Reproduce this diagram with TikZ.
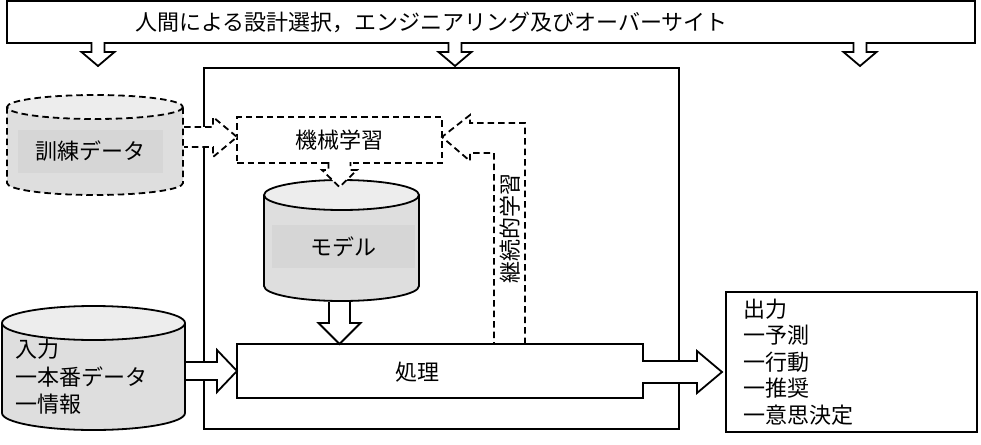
\documentclass[tikz,border=0pt]{standalone}
\usepackage{fontspec}
\setmainfont{Noto Sans CJK JP}
\colorlet{drum body}{black!13}
\colorlet{drum top}{black!7}
\colorlet{drum label}{black!16}
\tikzset{
  box/.style={draw, line width=1.8pt, inner sep=0pt, outer sep=0pt},
  dashline/.style={dash pattern=on 6.5pt off 4pt},
  blockarrow/.style={draw, fill=white, line width=1.8pt, line join=miter},
  drum/.style={fill=drum body, draw, line width=1.8pt},
  drumtop/.style={fill=drum top, draw, line width=1.8pt},
  drumlabel/.style={fill=drum label, inner sep=0pt}
}

\begin{document}
\begin{tikzpicture}[x=1pt, y=-1pt, font=\fontsize{22}{27.5}\selectfont]
  \useasboundingbox (0,0) rectangle (981,444);
  \node[box, anchor=north west, minimum width=968, minimum height=42] (human) at (7,1) {};
  \node[anchor=west, inner sep=0pt] (humantext) at (135,22) {人間による設計選択，エンジニアリング及びオーバーサイト};
  \node[box, anchor=north west, minimum width=475, minimum height=361] (system) at (204,68) {};
  \foreach \dx in {84.5, 441.5, 846.5}
    \filldraw[blockarrow] ([shift={(\dx,-0.8)}]human.south west) -- ++(0,9.8) -- ++(-10,0)
      -- ++(16.5,14) -- ++(16.5,-14) -- ++(-10,0) -- ++(0,-9.8);

  \filldraw[drum, dashline] (7,107) -- (7,183) arc[start angle=180, end angle=0, x radius=88, y radius=12] -- (183,107);
  \filldraw[drumtop, dashline] (95,107) ellipse[x radius=88, y radius=12];
  \node[drumlabel, minimum width=145, minimum height=43] (train) at (90.5,151.5) {訓練データ};
  \coordinate (trainport) at (183,137);
  \node[box, dashline, minimum width=205, minimum height=46] (ml) at (339.5,140) {機械学習};
  \filldraw[blockarrow, dashline] ([shift={(1,-10)}]trainport) -- ++(29,0) -- ++(0,-10)
    -- ([yshift=3pt]ml.west) -- ++(-24,20) -- ++(0,-10) -- ++(-29,0);

  \filldraw[drum] (264,195) -- (264,286) arc[start angle=180, end angle=0, x radius=77.5, y radius=15] -- (419,195);
  \filldraw[drumtop] (341.5,195) ellipse[x radius=77.5, y radius=15];
  \node[drumlabel, minimum width=143, minimum height=43] (model) at (343.5,246.5) {モデル};
  \coordinate (modelbase) at (339.5,302);
  \filldraw[blockarrow, dashline] ([shift={(-11,-0.8)}]ml.south) -- ++(0,7.8) -- ++(-6.5,0)
    -- ++(17.5,17) -- ++(17.5,-17) -- ++(-6.5,0) -- ++(0,-7.8);

  \node[inner sep=0pt, outer sep=0pt, minimum width=406, minimum height=54] (proc) at (440,371) {};
  \filldraw[blockarrow] (proc.south east) -- (proc.south west) -- (proc.north west) -- (proc.north east)
    -- ++(0,17) -- ++(54,0) -- ++(0,-10) -- ++(25,21) -- ++(-25,21) -- ++(0,-10) -- ++(-54,0) -- cycle;
  \node (proctext) at (417,372) {処理};
  \filldraw[blockarrow] ([xshift=-10.5pt]modelbase) -- ++(0,21) -- ++(-10.5,0)
    -- (modelbase |- proc.north) -- ++(21,-21) -- ++(-10.5,0) -- ++(0,-21);

  \filldraw[drum] (2,323) -- (2,413) arc[start angle=180, end angle=0, x radius=91.5, y radius=17] -- (185,323);
  \filldraw[drumtop] (93.5,323) ellipse[x radius=91.5, y radius=17];
  \node[anchor=west, align=left, inner sep=0pt] (input) at (15,377) {入力\\一本番データ\\一情報};
  \coordinate (inport) at (185,371);
  \filldraw[blockarrow] ([shift={(1,-9)}]inport) -- ++(31,0) -- ++(0,-12)
    -- (proc.west) -- ++(-20,21) -- ++(0,-12) -- ++(-31,0);

  \draw[blockarrow, fill=none, dashline] ([xshift=85pt]proc.north) -- ++(0,-221) -- ++(-55,0) -- ++(0,-8)
    -- ([yshift=3pt]ml.east) -- ++(28,24) -- ++(0,-8) -- ++(24,0) -- ++(0,191);
  \node[rotate=90] (learntext) at (510,228) {継続的学習};

  \node[box, anchor=north west, minimum height=140, text width=217, inner xsep=17, align=left,
    font=\fontsize{22}{26.5}\selectfont] (output) at (726,292) {出力\\一予測\\一行動\\一推奨\\一意思決定};
\end{tikzpicture}
\end{document}
